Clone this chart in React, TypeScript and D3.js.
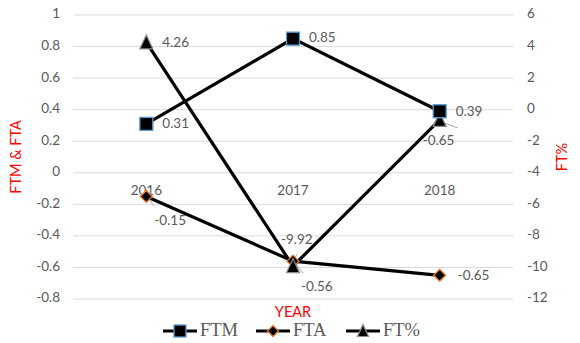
import React from "react";
import * as d3 from "d3";

const years = ["2016", "2017", "2018"];
const ftm = [0.31, 0.85, 0.39];
const fta = [-0.15, -0.56, -0.65];
const ftPct = [4.26, -9.92, -0.65];
const leftTicks = [1, 0.8, 0.6, 0.4, 0.2, 0, -0.2, -0.4, -0.6, -0.8];
const rightTicks = [6, 4, 2, 0, -2, -4, -6, -8, -10, -12];

const W = 580;
const H = 343;
const plot = { left: 73, right: 513, top: 15, bottom: 299 };
const tickFont = "Lato, 'Open Sans', sans-serif";
const tickColor = "#595959";
const fs = 13.5;

export default function App() {
  const x = d3.scaleBand<string>().domain(years).range([plot.left, plot.right]);
  const cx = (c: string) => (x(c) as number) + x.bandwidth() / 2;
  const yL = d3.scaleLinear().domain([-0.8, 1]).range([plot.bottom, plot.top]);
  const yR = d3.scaleLinear().domain([-12, 6]).range([plot.bottom, plot.top]);
  const line = d3.line<[number, number]>();

  const ftmPts = years.map((c, i) => [cx(c), yL(ftm[i])] as [number, number]);
  const ftaPts = years.map((c, i) => [cx(c), yL(fta[i])] as [number, number]);
  const pctPts = years.map((c, i) => [cx(c), yR(ftPct[i])] as [number, number]);

  const square = (px: number, py: number, s = 13, key?: any) => (
    <rect key={key} x={px - s / 2} y={py - s / 2} width={s} height={s} fill="#000" stroke="#5b9bd5" strokeWidth={1.3} />
  );
  const diamond = (px: number, py: number, r = 6, key?: any) => (
    <path key={key} d={`M${px},${py - r}L${px + r},${py}L${px},${py + r}L${px - r},${py}Z`} fill="#000" stroke="#ed7d31" strokeWidth={1.3} />
  );
  const triangle = (px: number, py: number, s = 13, key?: any) => (
    <path key={key} d={`M${px},${py - s / 2 - 1}L${px + s / 2},${py + s / 2}L${px - s / 2},${py + s / 2}Z`} fill="#000" stroke="#8c8c8c" strokeWidth={1.2} />
  );

  const label = (txt: string, px: number, py: number, anchor: "start" | "middle" | "end" = "start", key?: any) => (
    <text key={key} x={px} y={py} fontFamily={tickFont} fontSize={fs} fill={tickColor} textAnchor={anchor} dominantBaseline="middle">
      {txt}
    </text>
  );

  return (
    <svg width={W} height={H} style={{ position: "absolute", left: 0, top: 0, background: "#fff" }}>
      {/* gridlines */}
      {leftTicks.map((t) => (
        <line key={t} x1={plot.left} x2={plot.right} y1={yL(t)} y2={yL(t)} stroke="#d9d9d9" strokeWidth={1} />
      ))}
      {/* left axis ticks */}
      {leftTicks.map((t) => (
        <text key={"l" + t} x={60} y={yL(t)} fontFamily={tickFont} fontSize={fs} fill={tickColor} textAnchor="end" dominantBaseline="middle">
          {t}
        </text>
      ))}
      {/* right axis ticks */}
      {rightTicks.map((t) => (
        <text key={"r" + t} x={527} y={yR(t)} fontFamily={tickFont} fontSize={fs} fill={tickColor} textAnchor="start" dominantBaseline="middle">
          {t}
        </text>
      ))}
      {/* category labels just below zero */}
      {years.map((c) => (
        <text key={"c" + c} x={cx(c)} y={yL(0) + 19} fontFamily={tickFont} fontSize={fs} fill={tickColor} textAnchor="middle" dominantBaseline="middle">
          {c}
        </text>
      ))}
      {/* axis titles */}
      <text transform={`translate(17,${(plot.top + plot.bottom) / 2}) rotate(-90)`} fontFamily={tickFont} fontSize={14.5} fill="#ff0000" textAnchor="middle" dominantBaseline="middle">
        FTM &amp; FTA
      </text>
      <text transform={`translate(563,${(plot.top + plot.bottom) / 2}) rotate(-90)`} fontFamily={tickFont} fontSize={14.5} fill="#ff0000" textAnchor="middle" dominantBaseline="middle">
        FT%
      </text>
      <text x={cx("2017")} y={313} fontFamily={tickFont} fontSize={14.5} fill="#ff0000" textAnchor="middle" dominantBaseline="middle">
        YEAR
      </text>

      {/* series lines */}
      <path d={line(ftmPts) as string} fill="none" stroke="#000" strokeWidth={3.2} />
      <path d={line(ftaPts) as string} fill="none" stroke="#000" strokeWidth={3.2} />
      <path d={line(pctPts) as string} fill="none" stroke="#000" strokeWidth={3.2} />

      {/* leader lines */}
      <line x1={ftaPts[0][0] + 2} y1={ftaPts[0][1] + 2} x2={ftaPts[0][0] + 8} y2={ftaPts[0][1] + 10} stroke="#a6a6a6" strokeWidth={1} />
      <line x1={pctPts[2][0] + 2} y1={pctPts[2][1] + 2} x2={pctPts[2][0] + 18} y2={pctPts[2][1] + 8} stroke="#a6a6a6" strokeWidth={1} />
      <line x1={ftaPts[1][0] + 2} y1={ftaPts[1][1] + 2} x2={ftaPts[1][0] + 10} y2={ftaPts[1][1] + 12} stroke="#a6a6a6" strokeWidth={1} />
      <line x1={pctPts[1][0]} y1={pctPts[1][1] - 4} x2={pctPts[1][0] + 4} y2={pctPts[1][1] - 12} stroke="#a6a6a6" strokeWidth={1} />

      {/* markers */}
      {ftaPts.map(([px, py], i) => diamond(px, py, 6, "d" + i))}
      {pctPts.map(([px, py], i) => triangle(px, py, 13, "t" + i))}
      {ftmPts.map(([px, py], i) => square(px, py, 13, "s" + i))}

      {/* data labels */}
      {label(String(ftm[0]), ftmPts[0][0] + 16, ftmPts[0][1] + 1)}
      {label(String(ftm[1]), ftmPts[1][0] + 16, ftmPts[1][1])}
      {label(String(ftm[2]), ftmPts[2][0] + 16, ftmPts[2][1] + 1)}
      {label(String(ftPct[0]), pctPts[0][0] + 16, pctPts[0][1] + 1)}
      {label(String(ftPct[1]), pctPts[1][0] - 12, pctPts[1][1] - 26)}
      {label(String(ftPct[2]), pctPts[2][0] - 17, pctPts[2][1] + 22)}
      {label(String(fta[0]), ftaPts[0][0] + 8, ftaPts[0][1] + 25)}
      {label(String(fta[1]), ftaPts[1][0] + 8, ftaPts[1][1] + 26)}
      {label(String(fta[2]), ftaPts[2][0] + 18, ftaPts[2][1] + 1)}

      {/* legend */}
      <g>
        <line x1={163} x2={197} y1={331} y2={331} stroke="#000" strokeWidth={3.2} />
        {square(180, 331, 12)}
        <text x={200} y={332} fontFamily="'Liberation Serif', serif" fontSize={18.5} fill="#595959" dominantBaseline="middle">FTM</text>
        <line x1={256} x2={290} y1={331} y2={331} stroke="#000" strokeWidth={3.2} />
        {diamond(273, 331, 5.5)}
        <text x={293} y={332} fontFamily="'Liberation Serif', serif" fontSize={18.5} fill="#595959" dominantBaseline="middle">FTA</text>
        <line x1={346} x2={380} y1={331} y2={331} stroke="#000" strokeWidth={3.2} />
        {triangle(363, 331, 11)}
        <text x={383} y={332} fontFamily="'Liberation Serif', serif" fontSize={18.5} fill="#595959" dominantBaseline="middle">FT%</text>
      </g>
    </svg>
  );
}
